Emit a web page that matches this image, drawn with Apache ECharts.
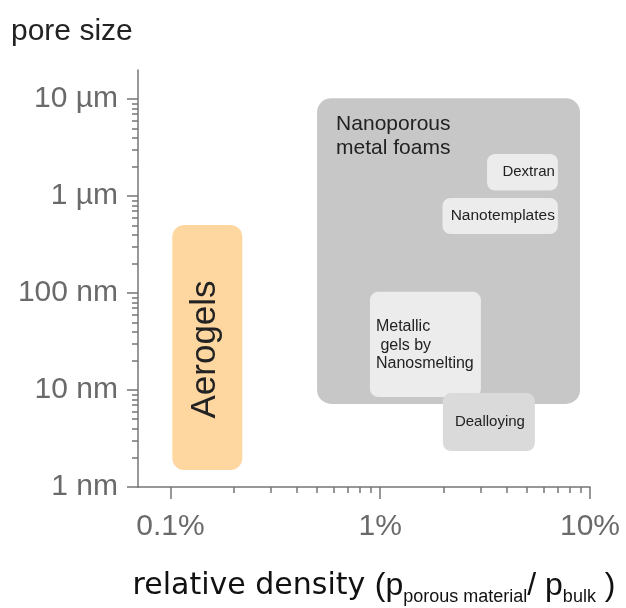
<!DOCTYPE html>
<html><head><meta charset="utf-8">
<script src="https://cdn.jsdelivr.net/npm/echarts@6/dist/echarts.min.js"></script>
<style>html,body{margin:0;padding:0;background:#fff}#chart{width:626px;height:608px}</style>
</head><body><div id="chart"></div>
<script>
// ---- axes ----
const xRange = [0.07, 10];           // relative density, %
const yRange = [1, 20000];           // pore size, nm
const xMajorTicks = [0.1, 1, 10];
const xTickLabels = ['0.1%', '1%', '10%'];
const xMinorTicks = [0.2, 0.3, 0.4, 0.5, 0.6, 0.7, 0.8, 0.9, 2, 3, 4, 5, 6, 7, 8, 9];
const yMajorTicks = [1, 10, 100, 1000, 10000];
const yTickLabels = ['1 nm', '10 nm', '100 nm', '1 µm', '10 µm'];
const yMinorTicks = [2, 3, 4, 5, 6, 7, 8, 9, 20, 30, 40, 50, 60, 70, 80, 90,
  200, 300, 400, 500, 600, 700, 800, 900, 2000, 3000, 4000, 5000, 6000, 7000, 8000, 9000];

// ---- regions (x in %, y in nm) ----
const boxNames = ['Nanoporous\nmetal foams', 'Dextran', 'Nanotemplates',
  'Metallic\n gels by\nNanosmelting', 'Dealloying', 'Aerogels'];
const boxXLow  = [0.5, 3.23, 1.98, 0.893, 1.99, 0.102];
const boxXHigh = [8.96, 7.03, 7.03, 3.02, 5.46, 0.22];
const boxYLow  = [7.2, 1140, 407, 8.5, 2.35, 1.5];
const boxYHigh = [10200, 2720, 957, 103, 9.3, 504];

const yTitle = 'pore size';

// ---- styles ----
const boxStyles = [
  {fill: '#c7c7c7', r: 14, font: 21, anchor: 'topLeft', dx: 19, dy: 14, lh: 24},
  {fill: '#ececec', r: 8, font: 15, anchor: 'right', dx: -3, dy: 0, lh: 18},
  {fill: '#ececec', r: 8, font: 15.5, anchor: 'right', dx: -3, dy: 0, lh: 18},
  {fill: '#ececec', r: 8, font: 16, anchor: 'left', dx: 6, dy: 1, lh: 18.5},
  {fill: '#dadada', r: 8, font: 15, anchor: 'center', dx: 1, dy: 0, lh: 18},
  {fill: '#fdd6a0', r: 12, font: 35, anchor: 'vertical', dx: -2, dy: 2, lh: 40}
];

const fmtFrom = (ticks, labels) => v => {
  for (let i = 0; i < ticks.length; i++) if (Math.abs(v / ticks[i] - 1) < 1e-6) return labels[i];
  return '';
};

const axisColor = '#767676';
const labelColor = '#6a6a6a';
const sans = '"Liberation Sans", Arial, sans-serif';

const chart = echarts.init(document.getElementById('chart'), null, {renderer: 'canvas'});
chart.setOption({
  animation: false,
  backgroundColor: '#fff',
  grid: {left: 138, right: 36, top: 70, bottom: 121, containLabel: false},
  xAxis: [{
    type: 'log', logBase: 10, min: xRange[0], max: xRange[1], position: 'bottom',
    axisLine: {show: true, lineStyle: {color: axisColor, width: 1.5}},
    axisTick: {show: true, length: 12, customValues: xMajorTicks, lineStyle: {color: axisColor, width: 1.5}},
    axisLabel: {show: true, customValues: xMajorTicks, formatter: fmtFrom(xMajorTicks, xTickLabels),
      color: labelColor, fontSize: 30, fontFamily: sans, margin: 25},
    splitLine: {show: false}, minorTick: {show: false}
  }, {
    type: 'log', logBase: 10, min: xRange[0], max: xRange[1], position: 'bottom', gridIndex: 0,
    axisLine: {show: false},
    axisTick: {show: true, length: 6, customValues: xMinorTicks, lineStyle: {color: axisColor, width: 1.5}},
    axisLabel: {show: false}, splitLine: {show: false}
  }],
  yAxis: [{
    type: 'log', logBase: 10, min: yRange[0], max: yRange[1], position: 'left',
    axisLine: {show: true, lineStyle: {color: axisColor, width: 1.5}},
    axisTick: {show: true, length: 11, customValues: yMajorTicks, lineStyle: {color: axisColor, width: 1.5}},
    axisLabel: {show: true, customValues: yMajorTicks, formatter: fmtFrom(yMajorTicks, yTickLabels),
      color: labelColor, fontSize: 30, fontFamily: sans, margin: 20},
    splitLine: {show: false}
  }, {
    type: 'log', logBase: 10, min: yRange[0], max: yRange[1], position: 'left', gridIndex: 0,
    axisLine: {show: false},
    axisTick: {show: true, length: 6, customValues: yMinorTicks, lineStyle: {color: axisColor, width: 1.5}},
    axisLabel: {show: false}, splitLine: {show: false}
  }],
  graphic: [{
    type: 'text', left: 11, top: 17,
    style: {text: yTitle, fontSize: 30, fontFamily: sans, fill: '#222'}
  }, {
    type: 'text', x: 374, y: 586,
    style: {
      text: '{a|relative density }{b|(p}{s|porous material}{b|/ p}{s|bulk}{b| )}',
      align: 'center', verticalAlign: 'middle', fill: '#111',
      rich: {
        a: {fontSize: 30, fontFamily: '"DejaVu Sans", Verdana, sans-serif', lineHeight: 40, verticalAlign: 'middle', fill: '#111'},
        b: {fontSize: 32, fontFamily: sans, lineHeight: 40, verticalAlign: 'middle', fill: '#111'},
        s: {fontSize: 18, fontFamily: sans, lineHeight: 18, verticalAlign: 'bottom', fill: '#111'}
      }
    }
  }],
  series: [{
    type: 'custom',
    coordinateSystem: 'cartesian2d',
    xAxisIndex: 0, yAxisIndex: 0,
    clip: false,
    encode: {x: [0, 1], y: [2, 3]},
    data: boxNames.map((n, i) => [boxXLow[i], boxXHigh[i], boxYLow[i], boxYHigh[i]]),
    renderItem: function (params, api) {
      const i = params.dataIndex;
      const st = boxStyles[i];
      const p0 = api.coord([api.value(0), api.value(3)]);
      const p1 = api.coord([api.value(1), api.value(2)]);
      const x = p0[0], y = p0[1], w = p1[0] - p0[0], h = p1[1] - p0[1];
      const textStyle = {text: boxNames[i], fontSize: st.font, fontFamily: sans, fill: '#222', lineHeight: st.lh};
      let text;
      if (st.anchor === 'topLeft') {
        text = {type: 'text', x: x + st.dx, y: y + st.dy, style: Object.assign(textStyle, {align: 'left', verticalAlign: 'top'})};
      } else if (st.anchor === 'right') {
        text = {type: 'text', x: x + w + st.dx, y: y + h / 2 + st.dy, style: Object.assign(textStyle, {align: 'right', verticalAlign: 'middle'})};
      } else if (st.anchor === 'left') {
        text = {type: 'text', x: x + st.dx, y: y + h / 2 + st.dy, style: Object.assign(textStyle, {align: 'left', verticalAlign: 'middle'})};
      } else if (st.anchor === 'center') {
        text = {type: 'text', x: x + w / 2 + st.dx, y: y + h / 2 + st.dy, style: Object.assign(textStyle, {align: 'center', verticalAlign: 'middle'})};
      } else {
        text = {type: 'text', x: x + w / 2 + st.dx, y: y + h / 2 + st.dy, rotation: Math.PI / 2,
          style: Object.assign(textStyle, {align: 'center', verticalAlign: 'middle'})};
      }
      return {type: 'group', children: [
        {type: 'rect', shape: {x: x, y: y, width: w, height: h, r: st.r}, style: {fill: st.fill}},
        text
      ]};
    }
  }]
});
</script>
</body></html>
